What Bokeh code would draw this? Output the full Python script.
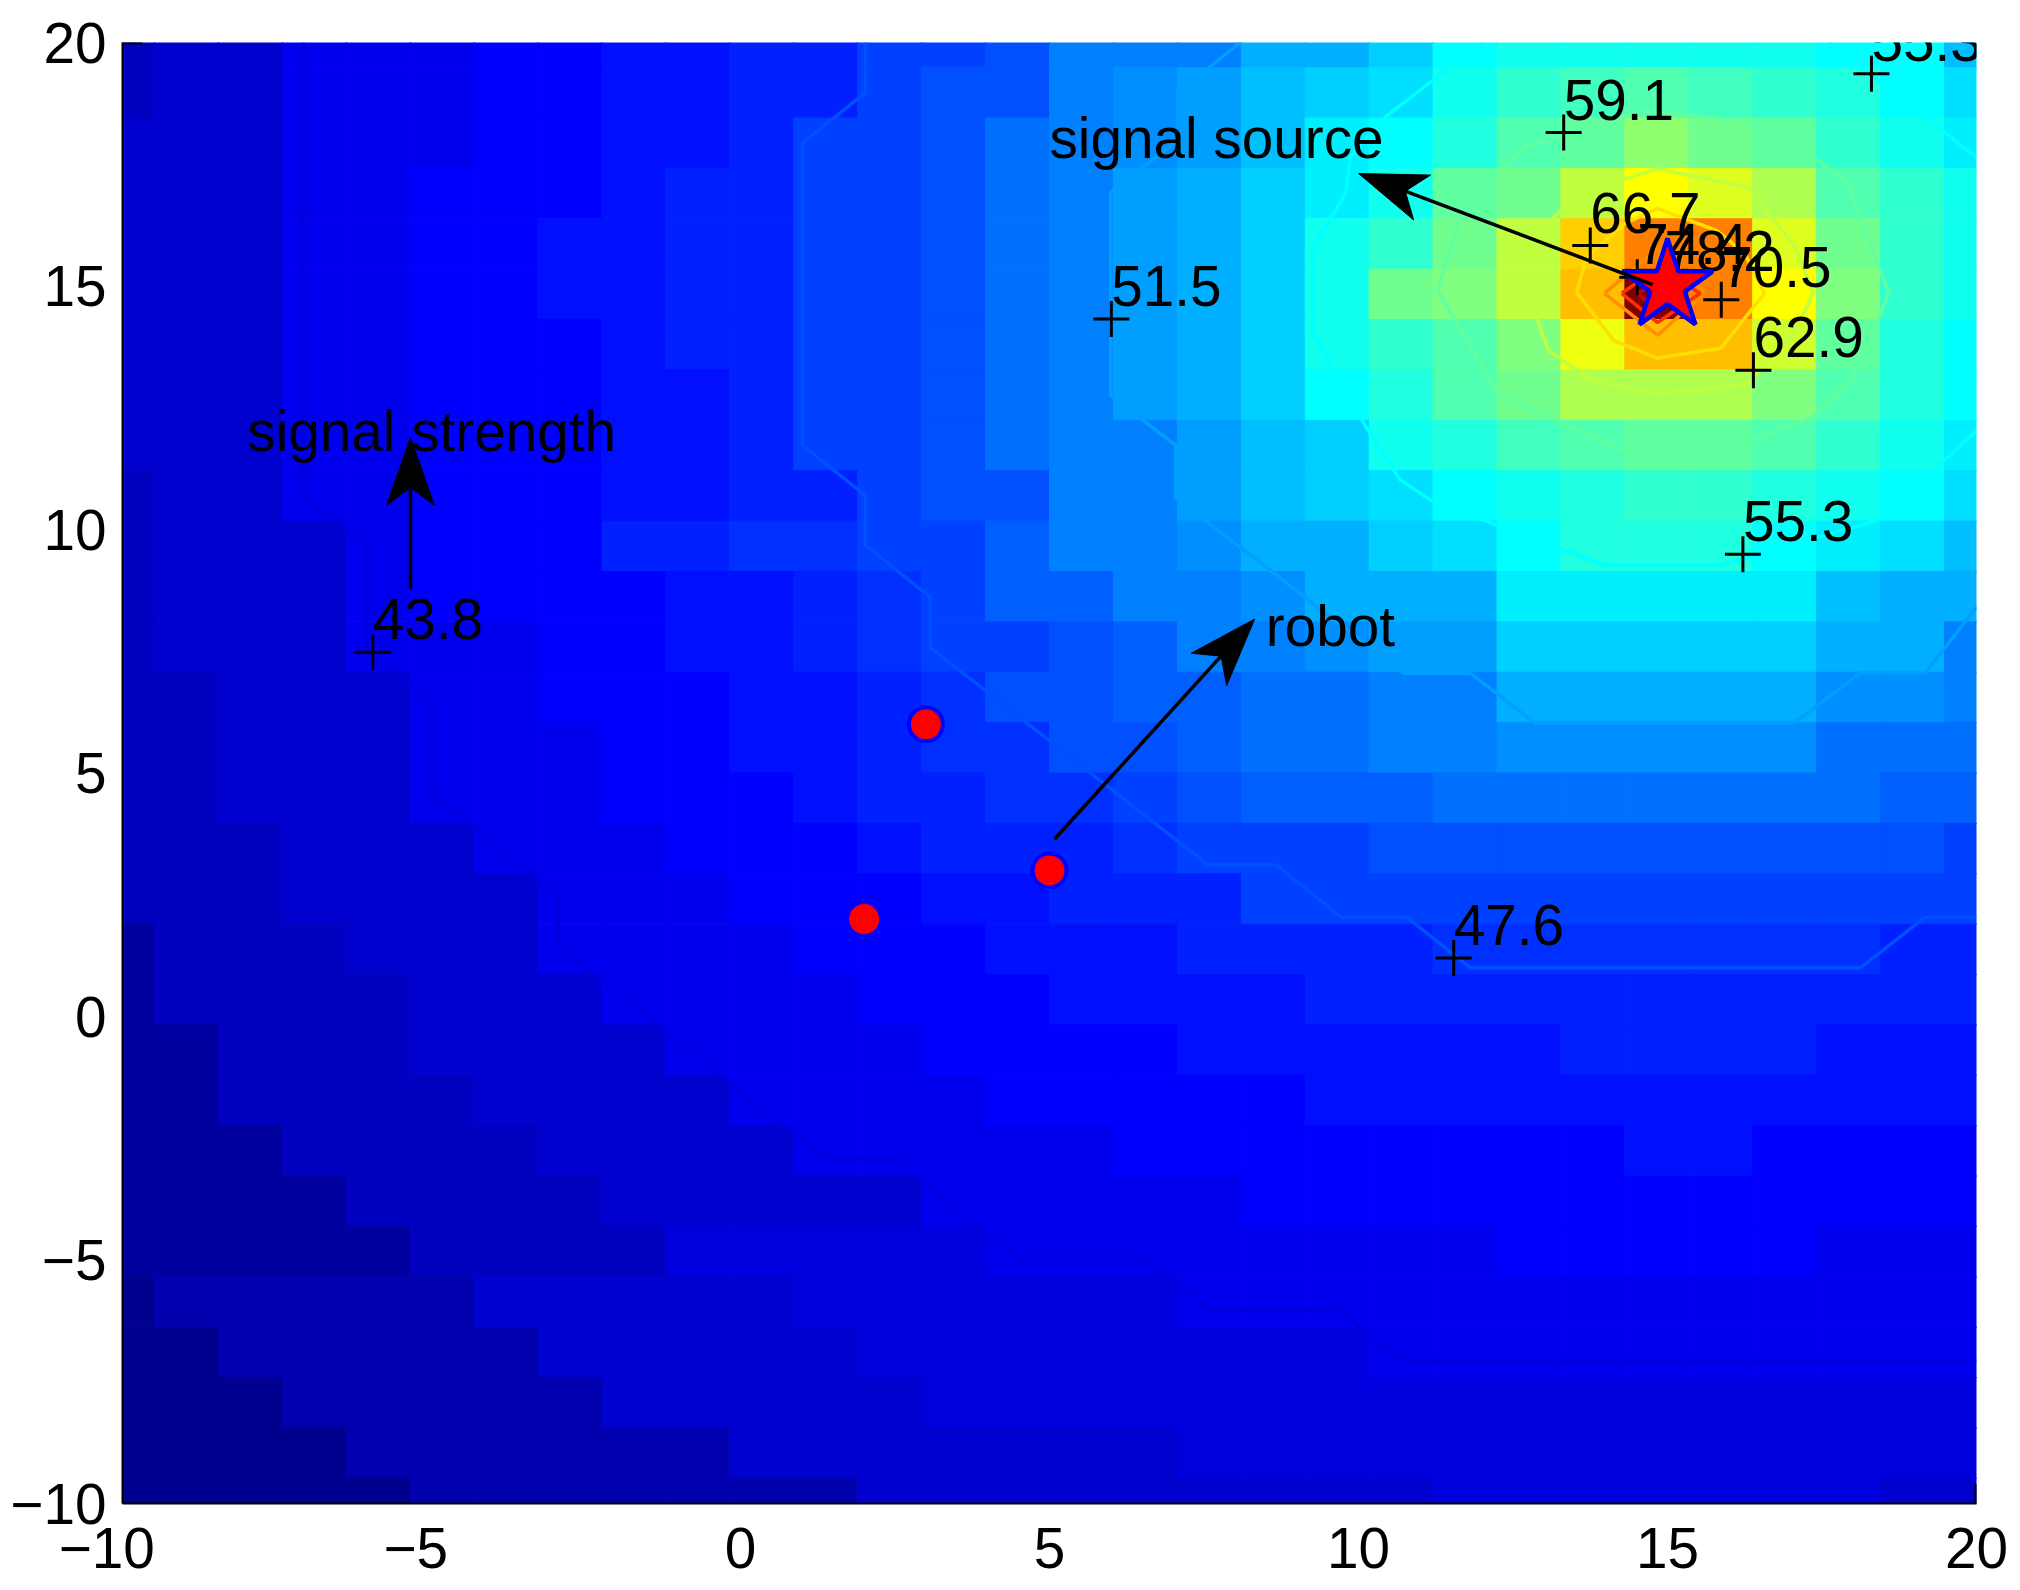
from bokeh.embed import file_html
from bokeh.models import FixedTicker, LinearColorMapper
from bokeh.plotting import figure
from bokeh.resources import INLINE

# colour index of every cell of the field, top row (y=20) first
strength_rows = [
    [3,4,4,6,6,6,7,7,8,8,9,9,11,11,12,15,15,15,18,18,20,23,24,24,24,24,24,23,23,19],
    [3,4,4,6,6,6,7,7,8,8,9,9,11,12,12,15,16,17,19,20,21,24,26,27,28,27,26,25,23,21],
    [4,4,4,6,6,6,7,7,8,8,9,11,11,12,14,15,16,17,19,22,23,25,28,29,32,30,29,26,24,22],
    [4,4,4,6,6,7,7,7,8,9,9,11,11,12,14,15,17,18,20,22,24,29,30,35,39,37,34,28,26,24],
    [4,4,4,6,6,7,7,8,8,9,9,11,11,12,14,15,17,18,20,24,26,30,35,42,47,47,37,30,26,24],
    [4,4,4,6,6,7,7,8,8,9,9,11,11,12,14,15,17,18,20,24,30,31,35,43,63,47,39,31,26,24],
    [4,4,4,6,6,7,7,7,8,9,9,11,11,12,14,15,17,18,20,24,26,28,31,38,43,43,36,29,25,23],
    [4,4,4,6,6,7,7,7,8,8,9,11,11,12,14,15,17,18,20,23,25,28,30,34,34,34,31,28,25,23],
    [4,4,4,6,6,7,7,7,8,8,9,11,11,12,14,15,15,17,19,20,24,25,27,28,29,29,28,26,24,22],
    [3,4,4,6,6,7,7,7,8,8,9,9,11,12,12,15,15,17,19,20,21,23,24,25,26,26,25,24,23,21],
    [3,4,4,4,6,7,7,7,9,9,10,10,11,11,13,15,15,16,18,18,20,21,23,25,25,25,23,22,21,19],
    [3,4,4,4,6,7,7,7,7,8,8,9,10,11,13,13,15,15,16,18,18,18,22,22,22,22,22,19,18,18],
    [3,4,4,4,6,6,6,7,7,8,8,9,10,11,11,12,13,15,15,16,17,17,20,20,20,20,20,18,18,15],
    [3,3,4,4,4,6,6,7,7,7,8,8,9,10,12,12,13,13,14,14,15,15,18,18,18,18,18,16,16,15],
    [3,3,4,4,4,6,6,6,7,7,8,8,9,10,10,12,12,13,14,14,15,15,16,16,16,16,16,14,14,14],
    [3,3,4,4,4,6,6,6,7,7,7,8,9,9,10,10,11,12,13,13,13,14,14,14,14,14,14,14,13,13],
    [3,3,3,4,4,4,6,6,6,7,7,7,8,9,9,9,10,11,11,11,12,12,12,12,12,12,12,12,12,11],
    [3,3,3,4,4,4,4,6,6,6,7,7,7,8,8,9,9,9,11,11,11,11,11,11,11,11,11,11,11,11],
    [1,3,3,3,4,4,4,6,6,6,6,7,7,7,8,8,8,9,9,9,9,10,10,10,10,10,10,10,9,9],
    [1,3,3,3,3,4,4,4,6,6,6,6,7,7,7,8,8,8,8,9,9,9,9,9,9,9,9,9,9,9],
    [1,1,3,3,3,4,4,4,4,6,6,6,6,7,7,7,7,8,8,8,8,8,8,9,9,9,9,8,8,8],
    [1,1,3,3,3,3,4,4,4,4,6,6,6,6,7,7,7,7,7,8,8,8,8,8,8,8,8,8,8,8],
    [1,1,1,3,3,3,3,4,4,4,4,6,6,6,6,6,7,7,7,7,7,7,7,7,8,8,7,7,7,7],
    [1,1,1,1,3,3,3,3,4,4,4,4,4,6,6,6,6,6,7,7,7,7,7,7,7,7,7,7,7,7],
    [1,1,1,1,1,3,3,3,3,5,5,5,5,5,6,6,6,6,6,6,6,6,7,7,7,7,7,6,6,6],
    [0,2,2,2,2,2,4,4,4,4,4,5,5,5,5,5,5,6,6,6,6,6,6,6,6,6,6,6,6,6],
    [0,0,2,2,2,2,2,4,4,4,4,4,5,5,5,5,5,5,5,5,6,6,6,6,6,6,6,6,6,6],
    [0,0,0,2,2,2,2,2,4,4,4,4,4,5,5,5,5,5,5,5,5,5,5,5,5,5,5,5,5,5],
    [0,0,0,0,2,2,2,2,2,2,4,4,4,4,4,4,4,5,5,5,5,5,5,5,5,5,5,5,5,5],
    [0,0,0,0,0,2,2,2,2,2,2,2,4,4,4,4,4,4,4,4,4,5,5,5,5,5,5,5,4,4],
]

# contour lines, one pair of lists per level
contour_438_x = [-7.07,-7.07,-6.04,-6.04,-5.0,-5.0,-4.3,-2.96,-2.96,-1.78,1.33,2.44,4.51,6.55,7.6,9.66,10.71,20]
contour_438_y = [20,10.7,9.7,7.46,6.56,4.5,3.93,2.45,1.43,0.28,-2.9,-2.9,-4.97,-4.97,-6.02,-6.02,-7.07,-7.07]
contour_476_x = [2.02,2.02,1.0,1.0,2.02,2.02,3.07,3.07,6.47,7.57,8.67,9.72,10.78,11.81,18.12,19.17,20]
contour_476_y = [20,18.97,17.93,11.73,10.7,9.68,8.61,7.58,4.2,3.11,3.11,2.04,2.04,1.0,1.0,2.04,2.04]
contour_515_x = [8.09,7.07,7.07,5.99,5.99,7.04,7.04,7.52,10.73,11.81,12.85,17.05,18.12,19.17,20]
contour_515_y = [20,18.97,17.99,16.92,12.76,11.73,10.66,10.19,7.05,7.05,6.03,6.03,7.05,7.05,8.41]
contour_553_x = [12.0,10.32,9.87,9.79,9.26,9.26,10.15,10.68,11.17,13.98,15.87,18.4,20]
contour_553_y = [20,18.36,17.64,16.9,15.79,14.03,12.04,11.01,10.6,9.27,9.27,10.19,12.02]
contour_553b_x = [17.62,20]
contour_553b_y = [20,17.64]
contour_591_x = [11.28,11.76,12.75,13.96,14.64,16.18,17.07,17.91,18.58,18.04,17.33,15.92,14.29,13.27,12.25,11.28]
contour_591_y = [14.91,16.9,17.89,18.4,18.6,18.4,17.93,17.11,14.85,13.2,12.3,11.63,11.63,12.18,12.8,14.91]
contour_629_x = [12.73,12.75,13.07,13.79,14.84,15.73,16.31,17.07,17.36,17.07,16.31,14.84,13.56,12.73]
contour_629_y = [15.88,14.85,13.68,13.06,12.8,12.9,13.0,14.09,14.85,15.79,17.02,17.41,16.9,15.88]
contour_667_x = [13.53,13.69,14.32,14.84,15.79,16.25,16.57,15.86,14.84,14.13,13.53]
contour_667_y = [14.87,15.59,16.29,16.59,16.14,15.67,14.85,13.72,13.52,13.88,14.87]
contour_705_x = [13.98,14.84,15.6,14.84,13.98]
contour_705_y = [14.85,15.77,14.85,13.99,14.85]
contour_744_x = [14.26,14.84,15.53,14.84,14.26]
contour_744_y = [14.85,15.36,14.85,14.25,14.85]
contour_782_x = [14.51,14.84,15.21,14.84,14.51]
contour_782_y = [14.85,15.05,14.85,14.5,14.85]

# contour labels and their + marks
label_x = [-5.95,6.0,11.54,16.22,18.3,13.32,16.39,13.75,15.87,14.51,14.95]
label_y = [7.48,14.32,1.2,9.49,19.36,18.15,13.27,15.83,14.72,15.18,15.05]
label_text = ["43.8","51.5","47.6","55.3","55.3","59.1","62.9","66.7","70.5","74.4","78.2"]

robot_x = [3,2,5]
robot_y = [6,2,3]
source_x = [15]
source_y = [15]

# arrows: tail x, tail y, tip x, tip y
arrows = [(-5.34,8.77,-5.34,11.89), (5.08,3.64,8.32,8.16), (14.76,15.03,10.0,17.31)]

note_x = [-7.98,5.0,8.5]
note_y = [11.61,17.62,7.6]
note_text = ["signal strength","signal source","robot"]

ticks = [-10,-5,0,5,10,15,20]
# matlab centres only the digits of the negative x ticks, the padding shifts them left
x_tick_labels = {-10:"\u221210\u00a0\u00a0",-5:"\u22125\u00a0\u00a0",0:"0",5:"5",10:"10",15:"15",20:"20"}
y_tick_labels = {-10:"\u221210",-5:"\u22125",0:"0",5:"5",10:"10",15:"15",20:"20"}

# pixels per data unit, from the frame size below
px_x = 1854 / 30
px_y = 1462 / 30


def jet(i):
    # matlab jet with 64 steps
    def ramp(t):
        return max(0.0, min(1.0, min(t, 3.0 - t)))
    u = (i + 1) / 16
    return "#%02x%02x%02x" % (round(ramp(u - 1.5) * 255), round(ramp(u - 0.5) * 255), round(ramp(u + 0.5) * 255))


jet64 = [jet(i) for i in range(64)]
mapper = LinearColorMapper(palette=jet64, low=0, high=64)

p = figure(width=2012, height=1582, x_range=(-10, 20), y_range=(-10, 20),
           output_backend="svg", toolbar_location=None,
           min_border_left=122, min_border_right=36, min_border_top=42, min_border_bottom=78)
p.grid.visible = False
p.outline_line_color = None

step = 30 / 29
cell_x, cell_y, cell_level = [], [], []
for r, row in enumerate(strength_rows):
    for c, level in enumerate(row):
        cell_x.append(-10 + c * step)
        cell_y.append(20 - r * step)
        cell_level.append(level)
colour = {"field": "level", "transform": mapper}
p.rect(x="x", y="y", width=step, height=step, fill_color=colour, line_color=colour, line_width=1,
       source={"x": cell_x, "y": cell_y, "level": cell_level})

for xs, ys, level in [
    (contour_438_x, contour_438_y, 5),
    (contour_476_x, contour_476_y, 12),
    (contour_515_x, contour_515_y, 17),
    (contour_553_x, contour_553_y, 23),
    (contour_553b_x, contour_553b_y, 23),
    (contour_591_x, contour_591_y, 29),
    (contour_629_x, contour_629_y, 35),
    (contour_667_x, contour_667_y, 41),
    (contour_705_x, contour_705_y, 46),
    (contour_744_x, contour_744_y, 52),
    (contour_782_x, contour_782_y, 58),
]:
    p.line(xs, ys, line_color=jet64[level], line_width=3.5)

# the two tick stubs that show past the image
p.segment([-10], [20], [-9.68], [20], line_color="black", line_width=4)
p.segment([20], [-10], [20], [-9.6], line_color="black", line_width=4)

font = {"value": "Liberation Sans"}
p.scatter(label_x, label_y, marker="cross", size=36, fill_color=None, line_color="black", line_width=3)
p.text(label_x, label_y, text=label_text, x_offset=0, y_offset=-33, text_color="black",
       text_font=font, text_font_size="56.7px", text_baseline="alphabetic")

p.scatter(robot_x, robot_y, marker="circle", size=34, fill_color="red", line_color="blue", line_width=4)
p.scatter(source_x, source_y, marker="star", size=95, fill_color="red", line_color="blue", line_width=4.5)

for x0, y0, x1, y1 in arrows:
    # matlab style notched head, 68 long, 48 wide, notch at 50 (pixels)
    dx, dy = (x0 - x1) * px_x, (y0 - y1) * px_y
    n = (dx * dx + dy * dy) ** 0.5
    ux, uy = dx / n, dy / n

    def at(along, across):
        return x1 + (ux * along - uy * across) / px_x, y1 + (uy * along + ux * across) / px_y

    corners = [at(0, 0), at(68, 24), at(50, 0), at(68, -24)]
    p.line([x0, at(50, 0)[0]], [y0, at(50, 0)[1]], line_color="black", line_width=3.5)
    p.patch([c[0] for c in corners], [c[1] for c in corners], fill_color="black", line_color="black", line_width=1)

p.text(note_x, note_y, text=note_text, y_offset=-20, text_color="black", text_font=font,
       text_font_size="56.7px", text_baseline="alphabetic")

for ax in (p.xaxis[0], p.yaxis[0]):
    ax.ticker = FixedTicker(ticks=ticks)
    ax.major_label_text_font = "Liberation Sans"
    ax.major_label_text_font_size = "56.7px"
    ax.major_label_text_color = "black"
    ax.axis_line_color = "black"
    ax.axis_line_width = 2
    ax.major_tick_out = 0
    ax.major_tick_in = 0
    ax.minor_tick_out = 0
    ax.minor_tick_in = 0
p.xaxis[0].major_label_overrides = x_tick_labels
p.yaxis[0].major_label_overrides = y_tick_labels
p.xaxis[0].major_label_standoff = 13
p.yaxis[0].major_label_standoff = 16

open("out.html", "w").write(file_html(p, INLINE))
